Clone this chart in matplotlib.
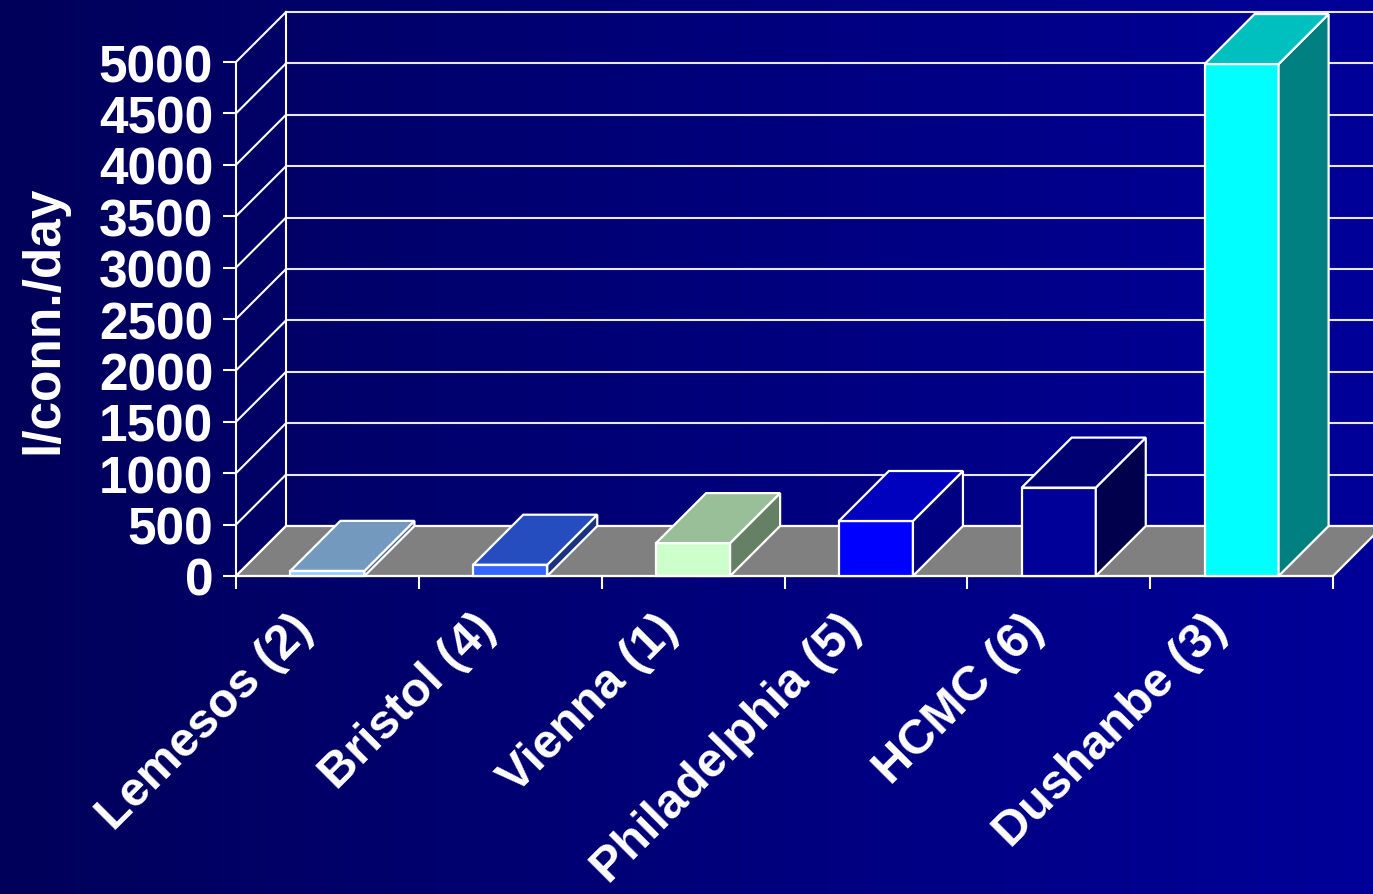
import numpy as np
import matplotlib.pyplot as plt
from matplotlib.patches import Polygon
from matplotlib.colors import to_rgb
from matplotlib.transforms import ScaledTranslation

plt.rcParams['font.family'] = ['Liberation Sans', 'DejaVu Sans']
plt.rcParams['font.weight'] = 'bold'

# data
cities = ['Lemesos (2)', 'Bristol (4)', 'Vienna (1)', 'Philadelphia (5)', 'HCMC (6)', 'Dushanbe (3)']
values = [50, 110, 320, 535, 860, 4980]
front_colors = ['#99CCFF', '#3366FF', '#CCFFCC', '#0000FF', '#000099', '#00FFFF']
y_ticks = list(range(0, 5001, 500))
y_label = 'l/conn./day'

W, H = 1373, 895
fig = plt.figure(figsize=(W / 100, H / 100), dpi=100)

# background gradient
bg = fig.add_axes([0, 0, 1, 1])
grad = np.linspace(0, 1, 256)
img = np.zeros((2, 256, 3))
img[:, :, 2] = (0x5A + (0x99 - 0x5A) * grad) / 255.0
bg.imshow(img, aspect='auto', extent=[0, 1, 0, 1])
bg.set_axis_off()

# main axes = front plane of the 3d chart
ax = fig.add_axes([236 / W, (H - 577) / H, (1333 - 236) / W, (577 - 63) / H])
ax.set_facecolor('none')
n = len(cities)
ax.set_xlim(0, n)
ax.set_ylim(0, 5000)

# depth offset (oblique projection) in data units
dx = 50 / ((1333 - 236) / n)
dy = 50 / ((577 - 63) / 5000)
bar_w = 0.405
edge = 'white'
lw = 1.6

# back wall gridlines + left wall diagonals
for v in y_ticks:
    ax.plot([dx, n + dx + 0.5], [v + dy, v + dy], color='#E8E8F4', lw=1.5, zorder=1, clip_on=False)
    ax.plot([0, dx], [v, v + dy], color=edge, lw=1.5, zorder=1, clip_on=False)
ax.plot([dx, dx], [dy, y_ticks[-1] + dy], color=edge, lw=1.5, zorder=1, clip_on=False)

# floor
floor = Polygon([(0, 0), (n, 0), (n + dx, dy), (dx, dy)], closed=True,
                facecolor='#808080', edgecolor=edge, lw=lw, zorder=2, clip_on=False)
ax.add_patch(floor)


def shade(c, f):
    r, g, b = to_rgb(c)
    return (r * f, g * f, b * f)


# bars
for i, (v, c) in enumerate(zip(values, front_colors)):
    x0 = i + 0.5 - bar_w / 2
    x1 = i + 0.5 + bar_w / 2
    front = Polygon([(x0, 0), (x1, 0), (x1, v), (x0, v)], closed=True,
                    facecolor=c, edgecolor=edge, lw=lw, zorder=3, clip_on=False)
    side = Polygon([(x1, 0), (x1 + dx, dy), (x1 + dx, v + dy), (x1, v)], closed=True,
                   facecolor=shade(c, 0.5), edgecolor=edge, lw=lw, zorder=3, clip_on=False)
    top = Polygon([(x0, v), (x1, v), (x1 + dx, v + dy), (x0 + dx, v + dy)], closed=True,
                  facecolor=shade(c, 0.75), edgecolor=edge, lw=lw, zorder=3, clip_on=False)
    for p in (front, side, top):
        ax.add_patch(p)

# axes styling
for s in ['top', 'right']:
    ax.spines[s].set_visible(False)
for s in ['left', 'bottom']:
    ax.spines[s].set_color(edge)
    ax.spines[s].set_linewidth(1.5)
    ax.spines[s].set_zorder(2.5)

ax.set_yticks(y_ticks)
ax.set_yticklabels([str(t) for t in y_ticks])
ax.tick_params(axis='y', colors='white', labelsize=37, length=9.4, width=1.5, pad=7)

ax.set_xticks(range(n + 1))
ax.set_xticklabels([])
ax.set_xticks([i + 0.5 for i in range(n)], minor=True)
ax.set_xticklabels(cities, minor=True)
ax.tick_params(axis='x', which='major', colors='white', length=9.4, width=1.5)
ax.tick_params(axis='x', which='minor', colors='white', labelsize=35, length=0, pad=21)
shift = ScaledTranslation(-0.38, 0, fig.dpi_scale_trans)
for lab in ax.get_xticklabels(minor=True):
    lab.set_rotation(45)
    lab.set_ha('right')
    lab.set_va('top')
    lab.set_rotation_mode('anchor')
    lab.set_transform(lab.get_transform() + shift)

ax.set_ylabel(y_label, color='white', fontsize=37, fontweight='bold', labelpad=22)

fig.savefig('out.png', dpi=100)
